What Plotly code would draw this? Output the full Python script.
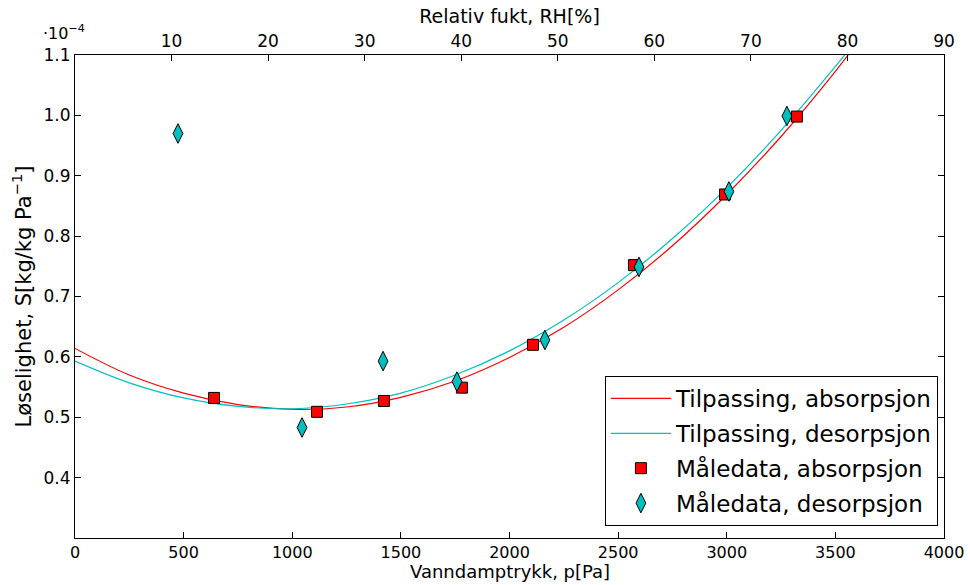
import plotly.graph_objects as go

# Measured data (S in units of 1e-4 kg/kg Pa^-1)
p_abs = [640, 1114, 1422, 1781, 2108, 2573, 2992, 3323]
s_abs = [0.532, 0.509, 0.527, 0.549, 0.620, 0.752, 0.869, 0.998]

p_des = [474, 1045, 1418, 1758, 2163, 2596, 3010, 3277]
s_des = [0.970, 0.483, 0.593, 0.559, 0.628, 0.749, 0.874, 0.999]

# Fitted curves
p_fit = [0, 250, 500, 750, 1000, 1250, 1500, 1750, 2000, 2250, 2500, 2750, 3000, 3250, 3500, 3600]
s_fit_abs = [0.614, 0.570, 0.540, 0.521, 0.513, 0.517, 0.533, 0.560, 0.599, 0.649, 0.711, 0.784, 0.869, 0.965, 1.073, 1.120]
s_fit_des = [0.593, 0.557, 0.532, 0.518, 0.514, 0.522, 0.540, 0.570, 0.610, 0.661, 0.723, 0.796, 0.880, 0.975, 1.081, 1.126]

x_ticks = [0, 500, 1000, 1500, 2000, 2500, 3000, 3500, 4000]
rh_ticks = [10, 20, 30, 40, 50, 60, 70, 80, 90]
y_ticks = [0.4, 0.5, 0.6, 0.7, 0.8, 0.9, 1.0, 1.1]

FONT = "DejaVu Sans"
CYAN = "#00BFBF"

fig = go.Figure()
fig.add_trace(go.Scatter(x=p_fit, y=s_fit_abs, mode="lines", line=dict(color="red", width=1.2, shape="spline"),
                         name="Tilpassing, absorpsjon", legendgroup="a"))
fig.add_trace(go.Scatter(x=p_fit, y=s_fit_des, mode="lines", line=dict(color=CYAN, width=1.2, shape="spline"),
                         name="Tilpassing, desorpsjon", legendgroup="b"))
fig.add_trace(go.Scatter(x=p_abs, y=s_abs, mode="markers",
                         marker=dict(symbol="square", size=11, color="red", line=dict(color="black", width=1)),
                         name="Måledata, absorpsjon", legendgroup="c"))
fig.add_trace(go.Scatter(x=p_des, y=s_des, mode="markers",
                         marker=dict(symbol="diamond-tall", size=14, color=CYAN, line=dict(color="black", width=1)),
                         name="Måledata, desorpsjon", legendgroup="d"))
# helper to activate the top axis
fig.add_trace(go.Scatter(x=rh_ticks, y=[None] * len(rh_ticks), xaxis="x2", mode="lines",
                         showlegend=False, hoverinfo="skip"))

axis_common = dict(ticks="inside", ticklen=6, tickwidth=1, tickcolor="black", showline=True,
                   linecolor="black", linewidth=1, showgrid=False, zeroline=False, automargin=False)

fig.update_layout(
    width=970, height=585,
    margin=dict(l=75, r=26, t=55, b=47),
    paper_bgcolor="white", plot_bgcolor="white",
    font=dict(family=FONT, color="black"),
    xaxis=dict(range=[0, 4000], tickvals=x_ticks, mirror=True,
               tickfont=dict(family=FONT, size=16, color="black"), **axis_common),
    xaxis2=dict(range=[0, 90], tickvals=rh_ticks, overlaying="x", side="top",
                tickfont=dict(family=FONT, size=17, color="black"),
                title=dict(text="Relativ fukt, RH[%]", font=dict(family=FONT, size=19), standoff=2),
                **axis_common),
    yaxis=dict(range=[0.3, 1.1], tickvals=y_ticks, tickformat=".1f", mirror="ticks",
               tickfont=dict(family=FONT, size=17, color="black"),
               title=dict(text="Løselighet, S[kg/kg Pa<sup>−1</sup>]", font=dict(family=FONT, size=21), standoff=6),
               **axis_common),
    legend=dict(x=0.993, y=0.025, xanchor="right", yanchor="bottom",
                bgcolor="white", bordercolor="black", borderwidth=1, itemwidth=60,
                font=dict(family=FONT, size=23, color="black"), tracegroupgap=2),
    showlegend=True,
)

fig.add_annotation(text="Vanndamptrykk, p[Pa]", xref="paper", yref="paper", x=0.5, y=0,
                   xanchor="center", yanchor="top", yshift=-22, showarrow=False, borderpad=0,
                   font=dict(family=FONT, size=18, color="black"))

fig.add_annotation(text="·10<sup>−4</sup>", xref="paper", yref="paper", x=0, y=1, xanchor="right",
                   yanchor="bottom", xshift=12, yshift=10, showarrow=False,
                   font=dict(family=FONT, size=16, color="black"))

fig.write_html("out.html")
